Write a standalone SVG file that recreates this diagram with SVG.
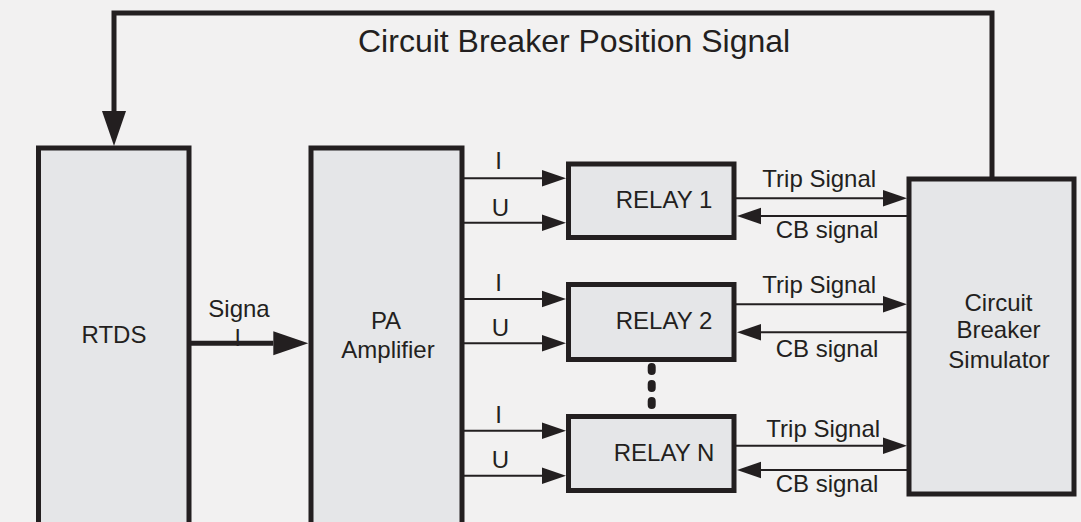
<svg xmlns="http://www.w3.org/2000/svg" width="1081" height="522" viewBox="0 0 1081 522">
<style>
text{font-family:"Liberation Sans",Arial,sans-serif;fill:#231f20;font-size:24px}
.box{fill:#e5e6e8;stroke:#231f20;stroke-width:5}
.thick{fill:none;stroke:#231f20;stroke-width:5}
.thin{fill:none;stroke:#231f20;stroke-width:2}
.mid{text-anchor:middle}
</style>
<defs>
<marker id="bigArrow" markerUnits="userSpaceOnUse" markerWidth="36" markerHeight="26" viewBox="0 -13 36 26" refX="0" refY="0" orient="auto">
<path d="M0,-12 L35,0 L0,12 Z" fill="#231f20"/>
</marker>
<marker id="smallArrow" markerUnits="userSpaceOnUse" markerWidth="25" markerHeight="18" viewBox="0 -9 25 18" refX="0" refY="0" orient="auto">
<path d="M0,-8.3 L24,0 L0,8.3 Z" fill="#231f20"/>
</marker>
</defs>
<rect x="0" y="0" width="1081" height="522" fill="#f2f1f1"/>

<g id="rtds">
<rect class="box" x="38.5" y="148" width="150.5" height="400"/>
<text class="mid" x="114" y="342.7">RTDS</text>
</g>
<g id="pa-amplifier">
<rect class="box" x="311" y="148" width="151" height="400"/>
<text class="mid" x="386" y="329.3">PA</text>
<text class="mid" x="388" y="358.3">Amplifier</text>
</g>
<g id="relay1">
<rect class="box" x="568.5" y="164" width="165.5" height="73.5"/>
<text class="mid" x="664" y="208.3">RELAY 1</text>
</g>
<g id="relay2">
<rect class="box" x="568.5" y="284.5" width="165.5" height="75"/>
<text class="mid" x="664" y="329.3">RELAY 2</text>
</g>
<g id="relayN">
<rect class="box" x="568.5" y="416.5" width="165.5" height="74"/>
<text class="mid" x="664" y="460.7">RELAY N</text>
</g>
<g id="cb-simulator">
<rect class="box" x="909" y="179" width="165" height="315"/>
<text class="mid" x="998.5" y="310.7">Circuit</text>
<text class="mid" x="998.5" y="338.3">Breaker</text>
<text class="mid" x="999" y="368.3">Simulator</text>
</g>

<g id="connectors">
<path class="thick" d="M992,179 V13 H114 V111" marker-end="url(#bigArrow)"/>
<text x="358" y="52" style="font-size:32px">Circuit Breaker Position Signal</text>

<text x="208.3" y="316.7">Signa</text>
<text class="mid" x="237.7" y="346">l</text>
<path class="thick" d="M191,343.3 H273.3" marker-end="url(#bigArrow)"/>

<path class="thin" d="M464,178.3 H542" marker-end="url(#smallArrow)"/>
<path class="thin" d="M464,222.7 H542" marker-end="url(#smallArrow)"/>
<text class="mid" x="498.5" y="169">I</text>
<text class="mid" x="500.5" y="215.5">U</text>

<path class="thin" d="M464,299 H542" marker-end="url(#smallArrow)"/>
<path class="thin" d="M464,343.3 H542" marker-end="url(#smallArrow)"/>
<text class="mid" x="498.5" y="291">I</text>
<text class="mid" x="500.5" y="336">U</text>

<path class="thin" d="M464,430.7 H542" marker-end="url(#smallArrow)"/>
<path class="thin" d="M464,475.7 H542" marker-end="url(#smallArrow)"/>
<text class="mid" x="498.5" y="422.5">I</text>
<text class="mid" x="500.5" y="467.5">U</text>

<path class="thin" d="M736,198.3 H883" marker-end="url(#smallArrow)"/>
<path class="thin" d="M907,216 H761" marker-end="url(#smallArrow)"/>
<text class="mid" x="819.2" y="186.7">Trip Signal</text>
<text class="mid" x="827" y="238.3">CB signal</text>

<path class="thin" d="M736,304.3 H883" marker-end="url(#smallArrow)"/>
<path class="thin" d="M907,332.3 H761" marker-end="url(#smallArrow)"/>
<text class="mid" x="819.2" y="293.3">Trip Signal</text>
<text class="mid" x="827" y="357.3">CB signal</text>

<path class="thin" d="M736,445.7 H883" marker-end="url(#smallArrow)"/>
<path class="thin" d="M907,470 H761" marker-end="url(#smallArrow)"/>
<text class="mid" x="823.2" y="436.7">Trip Signal</text>
<text class="mid" x="827" y="491.7">CB signal</text>

<line x1="651.7" y1="367" x2="651.7" y2="405" stroke="#231f20" stroke-width="8" stroke-linecap="round" stroke-dasharray="4 13"/>
</g>
</svg>
